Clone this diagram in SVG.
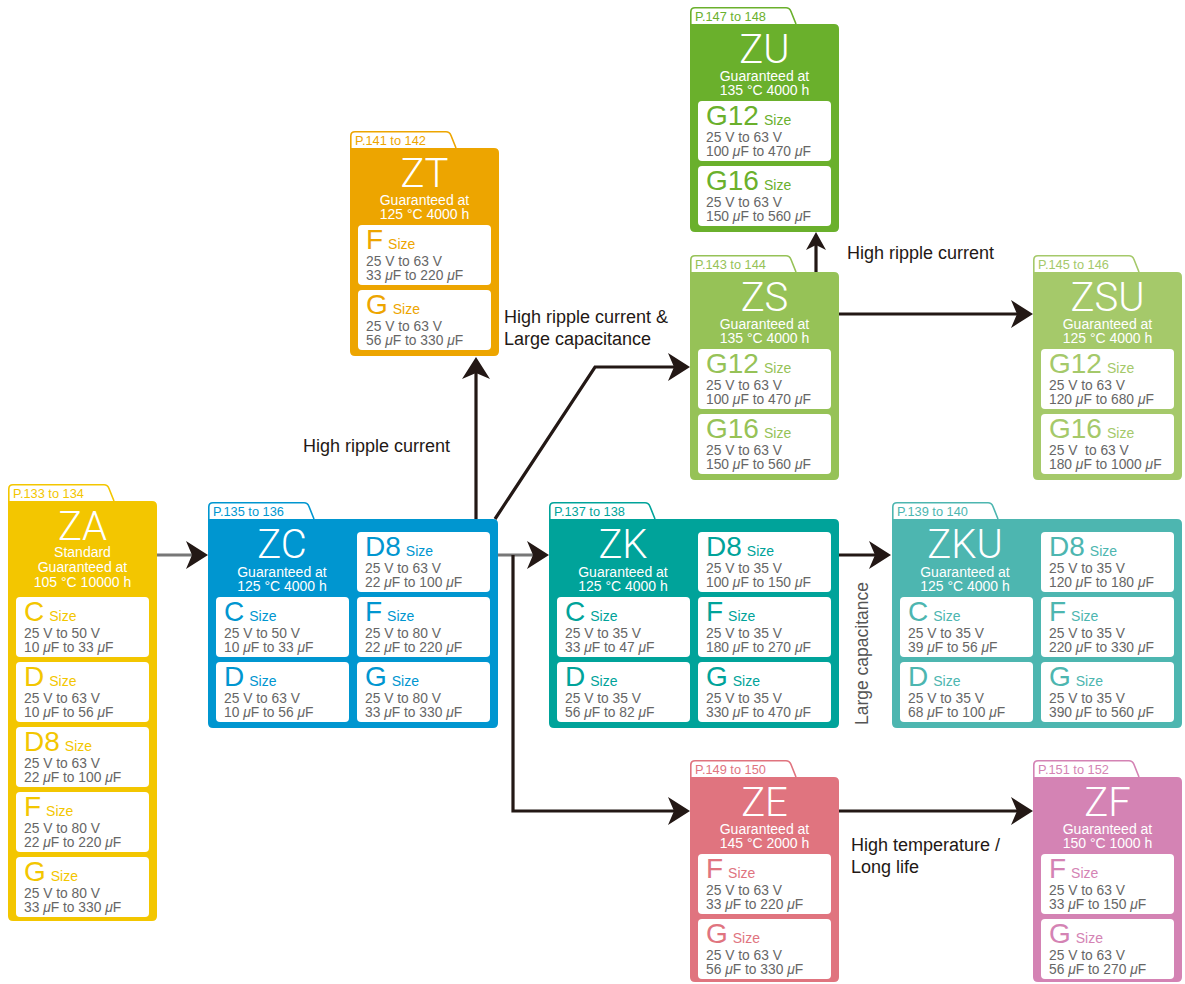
<svg xmlns="http://www.w3.org/2000/svg" width="1185" height="984" viewBox="0 0 1185 984">
<style>
text{font-family:"Liberation Sans",Arial,sans-serif}
.tab{fill:#fff;stroke:currentColor;stroke-width:1.6}
.pg{font-size:12.8px;fill:currentColor}
.body{fill:currentColor}
.ttl{font-family:Roboto,"Liberation Sans",sans-serif;font-weight:300;font-size:40px;fill:#fff;text-anchor:middle}
.sub{font-size:14px;fill:#fff;text-anchor:middle}
.box{fill:#fff}
.big{font-size:28px;fill:currentColor}
.sz{font-size:14px}
.spec{font-size:13.8px;fill:#666;white-space:pre}
.mu{font-style:italic}
.lbl{font-size:18px;fill:#231815}
.gl{fill:none;stroke:#777;stroke-width:3}
.bl{fill:none;stroke:#231815;stroke-width:3.2}
.za{color:#F3C600}.zc{color:#0096D0}.zk{color:#00A39A}.zku{color:#4DB6B0}
.zt{color:#EDA500}.zu{color:#6AB02C}.zs{color:#96C257}.zsu{color:#A5C96A}
.ze{color:#E0747F}.zf{color:#D483B4}
</style>
<defs>
<marker id="ah" markerUnits="userSpaceOnUse" viewBox="0 0 22 28" markerWidth="22" markerHeight="28" refX="14" refY="14" orient="auto">
<path d="M0,0 L22,14 L0,28 L6,14 Z" fill="#231815"/>
</marker>
<marker id="ahs" markerUnits="userSpaceOnUse" viewBox="0 0 18 20" markerWidth="18" markerHeight="20" refX="11" refY="10" orient="auto">
<path d="M0,0 L18,10 L0,20 L5,10 Z" fill="#231815"/>
</marker>
<path id="tabN" d="M0.8,0 V-12 Q0.8,-16.2 5,-16.2 H96 Q99.5,-16.2 101,-12.5 L106,0"/>
<path id="bodyN" d="M0,0 H144 Q149,0 149,5 V203 Q149,208 144,208 H5 Q0,208 0,203 Z"/>
<path id="bodyE" d="M0,0 H144 Q149,0 149,5 V200 Q149,205 144,205 H5 Q0,205 0,200 Z"/>
<path id="bodyW" d="M0,0 H285 Q290,0 290,5 V204 Q290,209 285,209 H5 Q0,209 0,204 Z"/>
<rect id="bx" class="box" width="133" height="60" rx="4"/>
</defs>

<g id="connectors">
<path class="gl" d="M157,555 H200" marker-end="url(#ah)"/>
<path class="gl" d="M498,555 H541" marker-end="url(#ah)"/>
<path class="bl" d="M513,555 V811 H682" marker-end="url(#ah)"/>
<path class="bl" d="M476,519 V365" marker-end="url(#ah)"/>
<path class="bl" d="M495,519 L595,367 H682" marker-end="url(#ah)"/>
<path class="bl" d="M816,272 V239" marker-end="url(#ahs)"/>
<path class="bl" d="M839,314 H1025" marker-end="url(#ah)"/>
<path class="bl" d="M839,555 H883" marker-end="url(#ah)"/>
<path class="bl" d="M839,811 H1025" marker-end="url(#ah)"/>
</g>

<g id="labels">
<text class="lbl" x="303" y="452">High ripple current</text>
<text class="lbl" x="504" y="323">High ripple current &amp;</text>
<text class="lbl" x="504" y="345">Large capacitance</text>
<text class="lbl" x="847" y="259">High ripple current</text>
<text class="lbl" x="851" y="851">High temperature /</text>
<text class="lbl" x="851" y="873">Long life</text>
<text class="lbl" transform="translate(868,725) rotate(-90)" style="fill:#555;font-size:17.5px">Large capacitance</text>
</g>

<g id="ZA" class="za" transform="translate(8,501)">
<use href="#tabN" class="tab"/>
<text class="pg" x="5" y="-3">P.133 to 134</text>
<path class="body" d="M0,0 H144 Q149,0 149,5 V415 Q149,420 144,420 H5 Q0,420 0,415 Z"/>
<text class="ttl" x="74.5" y="39">ZA</text>
<text class="sub" x="74.5" y="56">Standard</text>
<text class="sub" x="74.5" y="71">Guaranteed at</text>
<text class="sub" x="74.5" y="86">105 °C 10000 h</text>
<g transform="translate(8,96)"><use href="#bx"/><text class="big" x="8" y="24">C<tspan class="sz" dx="5">Size</tspan></text><text class="spec" x="8" y="41">25 V to 50 V</text><text class="spec" x="8" y="55">10 <tspan class="mu">μ</tspan>F to 33 <tspan class="mu">μ</tspan>F</text></g>
<g transform="translate(8,161)"><use href="#bx"/><text class="big" x="8" y="24">D<tspan class="sz" dx="5">Size</tspan></text><text class="spec" x="8" y="41">25 V to 63 V</text><text class="spec" x="8" y="55">10 <tspan class="mu">μ</tspan>F to 56 <tspan class="mu">μ</tspan>F</text></g>
<g transform="translate(8,226)"><use href="#bx"/><text class="big" x="8" y="24">D8<tspan class="sz" dx="5">Size</tspan></text><text class="spec" x="8" y="41">25 V to 63 V</text><text class="spec" x="8" y="55">22 <tspan class="mu">μ</tspan>F to 100 <tspan class="mu">μ</tspan>F</text></g>
<g transform="translate(8,291)"><use href="#bx"/><text class="big" x="8" y="24">F<tspan class="sz" dx="5">Size</tspan></text><text class="spec" x="8" y="41">25 V to 80 V</text><text class="spec" x="8" y="55">22 <tspan class="mu">μ</tspan>F to 220 <tspan class="mu">μ</tspan>F</text></g>
<g transform="translate(8,356)"><use href="#bx"/><text class="big" x="8" y="24">G<tspan class="sz" dx="5">Size</tspan></text><text class="spec" x="8" y="41">25 V to 80 V</text><text class="spec" x="8" y="55">33 <tspan class="mu">μ</tspan>F to 330 <tspan class="mu">μ</tspan>F</text></g>
</g>

<g id="ZC" class="zc" transform="translate(208,519)">
<use href="#tabN" class="tab"/>
<text class="pg" x="5" y="-3">P.135 to 136</text>
<use href="#bodyW" class="body"/>
<text class="ttl" x="74" y="39">ZC</text>
<text class="sub" x="74" y="57.5">Guaranteed at</text>
<text class="sub" x="74" y="72">125 °C 4000 h</text>
<g transform="translate(149,13)"><use href="#bx"/><text class="big" x="8" y="24">D8<tspan class="sz" dx="5">Size</tspan></text><text class="spec" x="8" y="41">25 V to 63 V</text><text class="spec" x="8" y="55">22 <tspan class="mu">μ</tspan>F to 100 <tspan class="mu">μ</tspan>F</text></g>
<g transform="translate(8,78)"><use href="#bx"/><text class="big" x="8" y="24">C<tspan class="sz" dx="5">Size</tspan></text><text class="spec" x="8" y="41">25 V to 50 V</text><text class="spec" x="8" y="55">10 <tspan class="mu">μ</tspan>F to 33 <tspan class="mu">μ</tspan>F</text></g>
<g transform="translate(149,78)"><use href="#bx"/><text class="big" x="8" y="24">F<tspan class="sz" dx="5">Size</tspan></text><text class="spec" x="8" y="41">25 V to 80 V</text><text class="spec" x="8" y="55">22 <tspan class="mu">μ</tspan>F to 220 <tspan class="mu">μ</tspan>F</text></g>
<g transform="translate(8,143)"><use href="#bx"/><text class="big" x="8" y="24">D<tspan class="sz" dx="5">Size</tspan></text><text class="spec" x="8" y="41">25 V to 63 V</text><text class="spec" x="8" y="55">10 <tspan class="mu">μ</tspan>F to 56 <tspan class="mu">μ</tspan>F</text></g>
<g transform="translate(149,143)"><use href="#bx"/><text class="big" x="8" y="24">G<tspan class="sz" dx="5">Size</tspan></text><text class="spec" x="8" y="41">25 V to 80 V</text><text class="spec" x="8" y="55">33 <tspan class="mu">μ</tspan>F to 330 <tspan class="mu">μ</tspan>F</text></g>
</g>

<g id="ZK" class="zk" transform="translate(549,519)">
<use href="#tabN" class="tab"/>
<text class="pg" x="5" y="-3">P.137 to 138</text>
<use href="#bodyW" class="body"/>
<text class="ttl" x="74" y="39">ZK</text>
<text class="sub" x="74" y="57.5">Guaranteed at</text>
<text class="sub" x="74" y="72">125 °C 4000 h</text>
<g transform="translate(149,13)"><use href="#bx"/><text class="big" x="8" y="24">D8<tspan class="sz" dx="5">Size</tspan></text><text class="spec" x="8" y="41">25 V to 35 V</text><text class="spec" x="8" y="55">100 <tspan class="mu">μ</tspan>F to 150 <tspan class="mu">μ</tspan>F</text></g>
<g transform="translate(8,78)"><use href="#bx"/><text class="big" x="8" y="24">C<tspan class="sz" dx="5">Size</tspan></text><text class="spec" x="8" y="41">25 V to 35 V</text><text class="spec" x="8" y="55">33 <tspan class="mu">μ</tspan>F to 47 <tspan class="mu">μ</tspan>F</text></g>
<g transform="translate(149,78)"><use href="#bx"/><text class="big" x="8" y="24">F<tspan class="sz" dx="5">Size</tspan></text><text class="spec" x="8" y="41">25 V to 35 V</text><text class="spec" x="8" y="55">180 <tspan class="mu">μ</tspan>F to 270 <tspan class="mu">μ</tspan>F</text></g>
<g transform="translate(8,143)"><use href="#bx"/><text class="big" x="8" y="24">D<tspan class="sz" dx="5">Size</tspan></text><text class="spec" x="8" y="41">25 V to 35 V</text><text class="spec" x="8" y="55">56 <tspan class="mu">μ</tspan>F to 82 <tspan class="mu">μ</tspan>F</text></g>
<g transform="translate(149,143)"><use href="#bx"/><text class="big" x="8" y="24">G<tspan class="sz" dx="5">Size</tspan></text><text class="spec" x="8" y="41">25 V to 35 V</text><text class="spec" x="8" y="55">330 <tspan class="mu">μ</tspan>F to 470 <tspan class="mu">μ</tspan>F</text></g>
</g>

<g id="ZKU" class="zku" transform="translate(892,519)">
<use href="#tabN" class="tab"/>
<text class="pg" x="5" y="-3">P.139 to 140</text>
<use href="#bodyW" class="body"/>
<text class="ttl" x="73" y="39">ZKU</text>
<text class="sub" x="73" y="57.5">Guaranteed at</text>
<text class="sub" x="73" y="72">125 °C 4000 h</text>
<g transform="translate(149,13)"><use href="#bx"/><text class="big" x="8" y="24">D8<tspan class="sz" dx="5">Size</tspan></text><text class="spec" x="8" y="41">25 V to 35 V</text><text class="spec" x="8" y="55">120 <tspan class="mu">μ</tspan>F to 180 <tspan class="mu">μ</tspan>F</text></g>
<g transform="translate(8,78)"><use href="#bx"/><text class="big" x="8" y="24">C<tspan class="sz" dx="5">Size</tspan></text><text class="spec" x="8" y="41">25 V to 35 V</text><text class="spec" x="8" y="55">39 <tspan class="mu">μ</tspan>F to 56 <tspan class="mu">μ</tspan>F</text></g>
<g transform="translate(149,78)"><use href="#bx"/><text class="big" x="8" y="24">F<tspan class="sz" dx="5">Size</tspan></text><text class="spec" x="8" y="41">25 V to 35 V</text><text class="spec" x="8" y="55">220 <tspan class="mu">μ</tspan>F to 330 <tspan class="mu">μ</tspan>F</text></g>
<g transform="translate(8,143)"><use href="#bx"/><text class="big" x="8" y="24">D<tspan class="sz" dx="5">Size</tspan></text><text class="spec" x="8" y="41">25 V to 35 V</text><text class="spec" x="8" y="55">68 <tspan class="mu">μ</tspan>F to 100 <tspan class="mu">μ</tspan>F</text></g>
<g transform="translate(149,143)"><use href="#bx"/><text class="big" x="8" y="24">G<tspan class="sz" dx="5">Size</tspan></text><text class="spec" x="8" y="41">25 V to 35 V</text><text class="spec" x="8" y="55">390 <tspan class="mu">μ</tspan>F to 560 <tspan class="mu">μ</tspan>F</text></g>
</g>

<g id="ZT" class="zt" transform="translate(350,148)">
<use href="#tabN" class="tab"/>
<text class="pg" x="5" y="-3">P.141 to 142</text>
<use href="#bodyN" class="body"/>
<text class="ttl" x="74.5" y="39">ZT</text>
<text class="sub" x="74.5" y="57">Guaranteed at</text>
<text class="sub" x="74.5" y="71">125 °C 4000 h</text>
<g transform="translate(8,77)"><use href="#bx"/><text class="big" x="8" y="24">F<tspan class="sz" dx="5">Size</tspan></text><text class="spec" x="8" y="41">25 V to 63 V</text><text class="spec" x="8" y="55">33 <tspan class="mu">μ</tspan>F to 220 <tspan class="mu">μ</tspan>F</text></g>
<g transform="translate(8,142)"><use href="#bx"/><text class="big" x="8" y="24">G<tspan class="sz" dx="5">Size</tspan></text><text class="spec" x="8" y="41">25 V to 63 V</text><text class="spec" x="8" y="55">56 <tspan class="mu">μ</tspan>F to 330 <tspan class="mu">μ</tspan>F</text></g>
</g>

<g id="ZU" class="zu" transform="translate(690,24)">
<use href="#tabN" class="tab"/>
<text class="pg" x="5" y="-3">P.147 to 148</text>
<use href="#bodyN" class="body"/>
<text class="ttl" x="74.5" y="39">ZU</text>
<text class="sub" x="74.5" y="57">Guaranteed at</text>
<text class="sub" x="74.5" y="71">135 °C 4000 h</text>
<g transform="translate(8,77)"><use href="#bx"/><text class="big" x="8" y="24">G12<tspan class="sz" dx="5">Size</tspan></text><text class="spec" x="8" y="41">25 V to 63 V</text><text class="spec" x="8" y="55">100 <tspan class="mu">μ</tspan>F to 470 <tspan class="mu">μ</tspan>F</text></g>
<g transform="translate(8,142)"><use href="#bx"/><text class="big" x="8" y="24">G16<tspan class="sz" dx="5">Size</tspan></text><text class="spec" x="8" y="41">25 V to 63 V</text><text class="spec" x="8" y="55">150 <tspan class="mu">μ</tspan>F to 560 <tspan class="mu">μ</tspan>F</text></g>
</g>

<g id="ZS" class="zs" transform="translate(690,272)">
<use href="#tabN" class="tab"/>
<text class="pg" x="5" y="-3">P.143 to 144</text>
<use href="#bodyN" class="body"/>
<text class="ttl" x="74.5" y="39">ZS</text>
<text class="sub" x="74.5" y="57">Guaranteed at</text>
<text class="sub" x="74.5" y="71">135 °C 4000 h</text>
<g transform="translate(8,77)"><use href="#bx"/><text class="big" x="8" y="24">G12<tspan class="sz" dx="5">Size</tspan></text><text class="spec" x="8" y="41">25 V to 63 V</text><text class="spec" x="8" y="55">100 <tspan class="mu">μ</tspan>F to 470 <tspan class="mu">μ</tspan>F</text></g>
<g transform="translate(8,142)"><use href="#bx"/><text class="big" x="8" y="24">G16<tspan class="sz" dx="5">Size</tspan></text><text class="spec" x="8" y="41">25 V to 63 V</text><text class="spec" x="8" y="55">150 <tspan class="mu">μ</tspan>F to 560 <tspan class="mu">μ</tspan>F</text></g>
</g>

<g id="ZSU" class="zsu" transform="translate(1033,272)">
<use href="#tabN" class="tab"/>
<text class="pg" x="5" y="-3">P.145 to 146</text>
<use href="#bodyN" class="body"/>
<text class="ttl" x="74.5" y="39">ZSU</text>
<text class="sub" x="74.5" y="57">Guaranteed at</text>
<text class="sub" x="74.5" y="71">125 °C 4000 h</text>
<g transform="translate(8,77)"><use href="#bx"/><text class="big" x="8" y="24">G12<tspan class="sz" dx="5">Size</tspan></text><text class="spec" x="8" y="41">25 V to 63 V</text><text class="spec" x="8" y="55">120 <tspan class="mu">μ</tspan>F to 680 <tspan class="mu">μ</tspan>F</text></g>
<g transform="translate(8,142)"><use href="#bx"/><text class="big" x="8" y="24">G16<tspan class="sz" dx="5">Size</tspan></text><text class="spec" x="8" y="41">25 V  to 63 V</text><text class="spec" x="8" y="55">180 <tspan class="mu">μ</tspan>F to 1000 <tspan class="mu">μ</tspan>F</text></g>
</g>

<g id="ZE" class="ze" transform="translate(690,777)">
<use href="#tabN" class="tab"/>
<text class="pg" x="5" y="-3">P.149 to 150</text>
<use href="#bodyE" class="body"/>
<text class="ttl" x="74.5" y="39">ZE</text>
<text class="sub" x="74.5" y="57">Guaranteed at</text>
<text class="sub" x="74.5" y="71">145 °C 2000 h</text>
<g transform="translate(8,77)"><use href="#bx"/><text class="big" x="8" y="24">F<tspan class="sz" dx="5">Size</tspan></text><text class="spec" x="8" y="41">25 V to 63 V</text><text class="spec" x="8" y="55">33 <tspan class="mu">μ</tspan>F to 220 <tspan class="mu">μ</tspan>F</text></g>
<g transform="translate(8,142)"><use href="#bx"/><text class="big" x="8" y="24">G<tspan class="sz" dx="5">Size</tspan></text><text class="spec" x="8" y="41">25 V to 63 V</text><text class="spec" x="8" y="55">56 <tspan class="mu">μ</tspan>F to 330 <tspan class="mu">μ</tspan>F</text></g>
</g>

<g id="ZF" class="zf" transform="translate(1033,777)">
<use href="#tabN" class="tab"/>
<text class="pg" x="5" y="-3">P.151 to 152</text>
<use href="#bodyE" class="body"/>
<text class="ttl" x="74.5" y="39">ZF</text>
<text class="sub" x="74.5" y="57">Guaranteed at</text>
<text class="sub" x="74.5" y="71">150 °C 1000 h</text>
<g transform="translate(8,77)"><use href="#bx"/><text class="big" x="8" y="24">F<tspan class="sz" dx="5">Size</tspan></text><text class="spec" x="8" y="41">25 V to 63 V</text><text class="spec" x="8" y="55">33 <tspan class="mu">μ</tspan>F to 150 <tspan class="mu">μ</tspan>F</text></g>
<g transform="translate(8,142)"><use href="#bx"/><text class="big" x="8" y="24">G<tspan class="sz" dx="5">Size</tspan></text><text class="spec" x="8" y="41">25 V to 63 V</text><text class="spec" x="8" y="55">56 <tspan class="mu">μ</tspan>F to 270 <tspan class="mu">μ</tspan>F</text></g>
</g>
</svg>
